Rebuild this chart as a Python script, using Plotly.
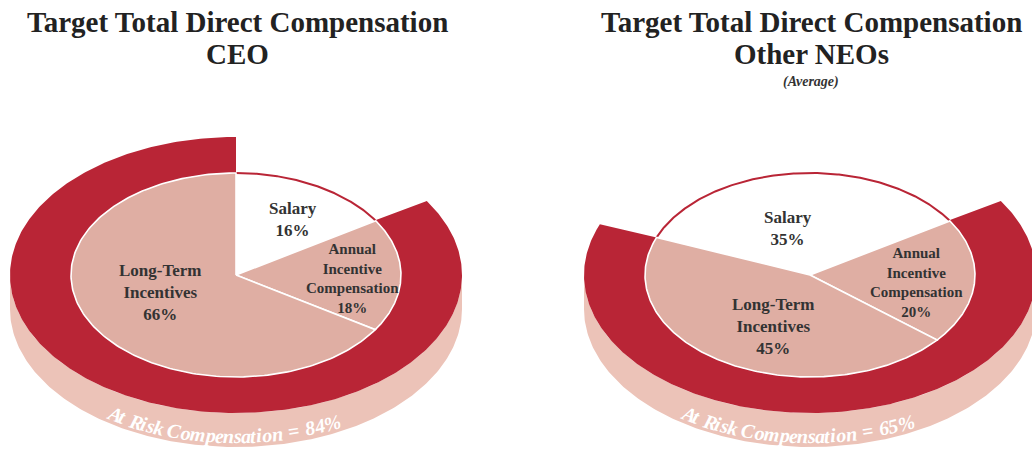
import numpy as np
import plotly.graph_objects as go

# ---------------- data ----------------
categories = ["Salary", "Annual<br>Incentive<br>Compensation", "Long-Term<br>Incentives"]
ceo_values = [16, 18, 66]
neo_values = [35, 20, 45]
title_line1 = ["Target Total Direct Compensation", "Target Total Direct Compensation"]
title_line2 = ["CEO", "Other NEOs"]
subtitles = ["", "(Average)"]

# ---------------- style / geometry ----------------
W, H = 1032, 451
CX = [236, 810]
CY = 275
RX_IN, RY_IN = 165, 102
RX_OUT, RY_OUT = 226, 138
DEPTH = 34
TEXT_SHIFT = 23
TEXT_START_DEG, TEXT_END_DEG = -124.2, -62.6
RED = "#b92536"
PINK = "#dfaea3"
SIDE = "#ecc3b8"
TXT = "#333333"
FONT = "Liberation Serif"
LABEL_SIZES = [17, 15, 17]
LABEL_OFFSETS = [
    [(0.345, -0.54), (0.703, 0.034), (-0.46, 0.176)],
    [(-0.133, -0.46), (0.648, 0.069), (-0.224, 0.50)],
]

fig = go.Figure()


def arc(cx, cy, rx, ry, a0, a1, n=200):
    t = np.radians(np.linspace(a0, a1, n))
    return cx + rx * np.cos(t), cy - ry * np.sin(t)


def add_poly(xs, ys, fill, line_color=None, lw=0):
    fig.add_trace(go.Scatter(
        x=np.append(xs, xs[0]), y=np.append(ys, ys[0]), mode="lines",
        fill="toself", fillcolor=fill,
        line=dict(color=line_color or fill, width=lw),
        hoverinfo="skip", showlegend=False))


# char width table (Times italic, per 1000 em)
CW = {"A": 611, "R": 611, "C": 667, " ": 250, "t": 278, "i": 278, "s": 389,
      "k": 444, "o": 500, "m": 722, "p": 500, "e": 444, "n": 500, "a": 500,
      "=": 675, "%": 833}

start_ceo = 90.0
anchor = start_ceo - ceo_values[0] * 3.6
starts = [start_ceo, anchor + neo_values[0] * 3.6]

annotations = []
for ci, values in enumerate([ceo_values, neo_values]):
    cx = CX[ci]
    start = starts[ci]
    sal_end = start - values[0] * 3.6
    ring_lo, ring_hi = start - 360.0, sal_end

    # side of extruded ring (front half only)
    lo, hi = max(ring_lo, -180.0), min(ring_hi, 0.0)
    x1, y1 = arc(cx, CY, RX_OUT, RY_OUT, lo, hi)
    x2, y2 = arc(cx, CY + DEPTH, RX_OUT, RY_OUT, hi, lo)
    add_poly(np.concatenate([x1, x2]), np.concatenate([y1, y2]), SIDE)

    # ring top (at-risk portion)
    x1, y1 = arc(cx, CY, RX_OUT, RY_OUT, ring_hi, ring_lo, 400)
    x2, y2 = arc(cx, CY, RX_IN, RY_IN, ring_lo, ring_hi, 400)
    add_poly(np.concatenate([x1, x2]), np.concatenate([y1, y2]), RED)

    # pie slices
    cum = 0.0
    for si, v in enumerate(values):
        a0 = start - cum * 3.6
        a1 = start - (cum + v) * 3.6
        cum += v
        xa, ya = arc(cx, CY, RX_IN, RY_IN, a0, a1, 200)
        xs = np.concatenate([[cx], xa])
        ys = np.concatenate([[CY], ya])
        if si == 0:
            add_poly(xs, ys, "white")
            fig.add_trace(go.Scatter(x=xa, y=ya, mode="lines",
                                     line=dict(color=RED, width=2),
                                     hoverinfo="skip", showlegend=False))
        else:
            add_poly(xs, ys, PINK, "white", 1.6)

    # slice labels
    for si, v in enumerate(values):
        ox, oy = LABEL_OFFSETS[ci][si]
        annotations.append(dict(
            x=cx + ox * RX_IN, y=CY + oy * RY_IN, xref="x", yref="y",
            text=f"<b>{categories[si]}<br>{v}%</b>", showarrow=False,
            font=dict(family=FONT, size=LABEL_SIZES[si], color=TXT),
            xanchor="center", yanchor="middle", align="center"))

    # curved "At Risk" text along the side band
    at_risk = sum(values[1:])
    label = f"At Risk Compensation = {at_risk}%"
    widths = np.array([CW.get(ch, 500) for ch in label], dtype=float)
    th = np.radians(np.linspace(TEXT_START_DEG, TEXT_END_DEG, 2000))
    px = cx + RX_OUT * np.cos(th)
    py = CY + TEXT_SHIFT - RY_OUT * np.sin(th)
    seg = np.hypot(np.diff(px), np.diff(py))
    s = np.concatenate([[0], np.cumsum(seg)])
    total = s[-1]
    cumw = np.concatenate([[0], np.cumsum(widths)])
    for k, ch in enumerate(label):
        if ch == " ":
            continue
        sc = (cumw[k] + widths[k] / 2) / cumw[-1] * total
        j = int(np.clip(np.searchsorted(s, sc), 1, len(s) - 1))
        dx = px[j] - px[j - 1]
        dy = py[j] - py[j - 1]
        ang = np.degrees(np.arctan2(dy, dx))
        annotations.append(dict(
            x=px[j], y=py[j], xref="x", yref="y", text=f"<b><i>{ch}</i></b>",
            showarrow=False, textangle=ang,
            font=dict(family=FONT, size=20, color="white"),
            xanchor="center", yanchor="middle"))

    # titles
    annotations.append(dict(x=cx + 1, y=22, xref="x", yref="y",
                            text=f"<b>{title_line1[ci]}</b>", showarrow=False,
                            font=dict(family=FONT, size=29, color="#222222"),
                            xanchor="center", yanchor="middle"))
    annotations.append(dict(x=cx + 1, y=54, xref="x", yref="y",
                            text=f"<b>{title_line2[ci]}</b>", showarrow=False,
                            font=dict(family=FONT, size=29, color="#222222"),
                            xanchor="center", yanchor="middle"))
    if subtitles[ci]:
        annotations.append(dict(x=cx + 1, y=82, xref="x", yref="y",
                                text=f"<b><i>{subtitles[ci]}</i></b>", showarrow=False,
                                font=dict(family=FONT, size=14, color="#333333"),
                                xanchor="center", yanchor="middle"))

fig.update_layout(
    width=W, height=H, margin=dict(l=0, r=0, t=0, b=0),
    paper_bgcolor="white", plot_bgcolor="white", showlegend=False,
    xaxis=dict(range=[0, W], visible=False, fixedrange=True),
    yaxis=dict(range=[H, 0], visible=False, fixedrange=True),
    annotations=annotations,
)
fig.write_html("out.html")
